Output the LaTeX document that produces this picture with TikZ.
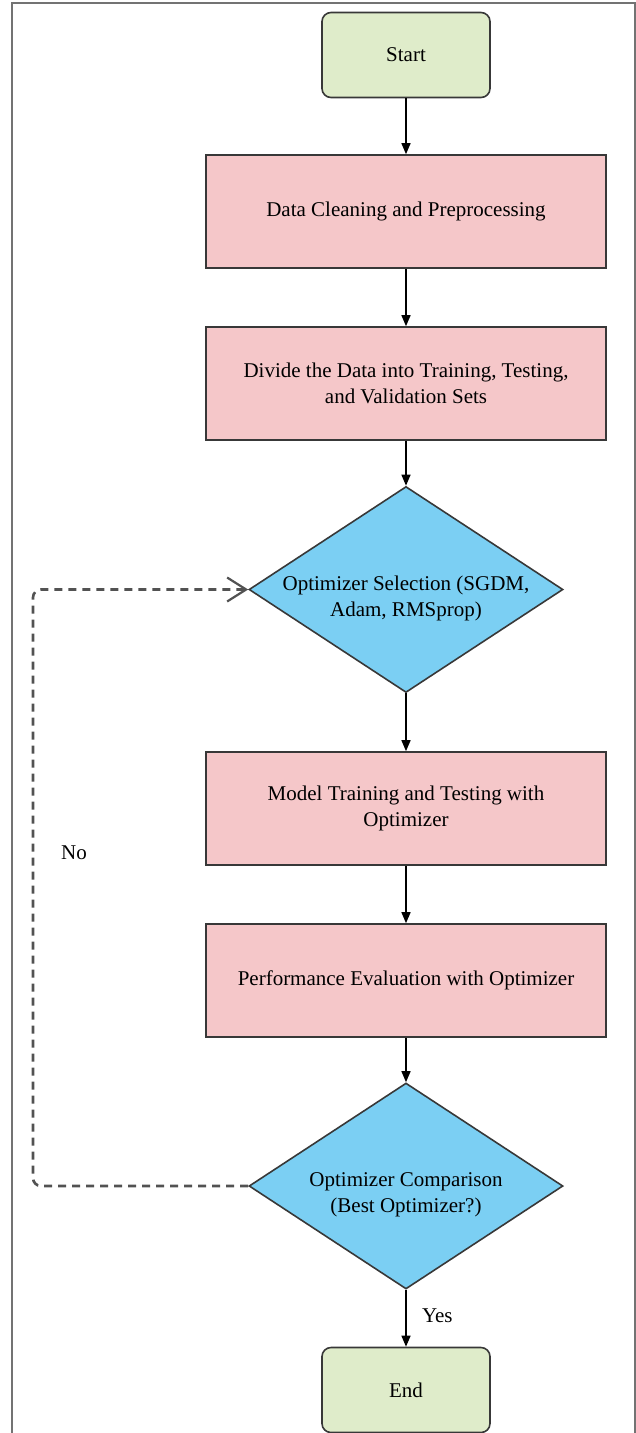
\documentclass[tikz,border=0pt]{standalone}
\usepackage{fontspec}
\setmainfont{Liberation Serif}
\usetikzlibrary{arrows.meta, positioning, shapes.geometric}
\definecolor{termfill}{HTML}{DFECCA}
\definecolor{procfill}{HTML}{F5C7C9}
\definecolor{decfill}{HTML}{7BCFF3}
\definecolor{edgecol}{HTML}{383838}
\tikzset{%
	every box/.style={
		draw=edgecol,
		line width=1.6pt,
		align=center,
		inner sep=0pt
	},
	terminal/.style={
		every box,
		fill=termfill,
		rounded corners=9pt,
		minimum width=168pt,
		minimum height=85pt
	},
	process/.style={
		every box,
		fill=procfill,
		minimum width=400pt,
		minimum height=113pt
	},
	decision/.style={
		every box,
		diamond,
		fill=decfill,
		minimum width=314pt,
		minimum height=206pt
	},
}

\begin{document}
\begin{tikzpicture}[
				x=1pt, y=-1pt,
				font=\fontsize{21}{26.5}\selectfont,
				arr/.style={draw=black, line width=1.4pt, -{Triangle[length=11pt,width=9pt]}},
				back/.style={draw=black!68, line width=2.6pt, dash pattern=on 8pt off 6pt,
					rounded corners=8pt, -{Straight Barb[length=19pt,width=24pt,line width=2.2pt]}}
				]
				\useasboundingbox (0,0) rectangle (636,1433);
				
				% frame
				\draw[black!55, line width=2pt] (12,1440) -- (12,3) -- (635,3) -- (635,1440);
				
				% Nodes of the flow
				\node[terminal] (start) at (406,55) {Start};
				\node[process] (clean) at (406,211.5) {Data Cleaning and Preprocessing};
				\node[process] (split) at (406,383.5) {Divide the Data into Training, Testing,\\and Validation Sets};
				\node[decision, label={[yshift=-9pt, align=center]center:Optimizer Selection (SGDM,\\Adam, RMSprop)}] (select) at (406,589.5) {};
				\node[process] (train) at (406,808.5) {Model Training and Testing with\\Optimizer};
				\node[process] (eval) at (406,980.5) {Performance Evaluation with Optimizer};
				\node[decision, label={[yshift=-9pt, align=center]center:Optimizer Comparison\\(Best Optimizer?)}] (compare) at (406,1186) {};
				\node[terminal] (end) at (406,1390) {End};
				
				% Edges
				\draw[arr] (start) -- (clean);
				\draw[arr] (clean) -- (split);
				\draw[arr] (split) -- (select);
				\draw[arr] (select) -- (train);
				\draw[arr] (train) -- (eval);
				\draw[arr] (eval) -- (compare);
				\draw[arr] (compare) -- node[right=12pt, pos=0.45] (yes) {Yes} (end);
				
				% loop back
				\coordinate (loopx) at (33,0);
				\draw[back] (compare.west) -| (loopx |- select.west) -- (select.west);
				\node (no) at (74,853) {No};
				
			\end{tikzpicture}
\end{document}
